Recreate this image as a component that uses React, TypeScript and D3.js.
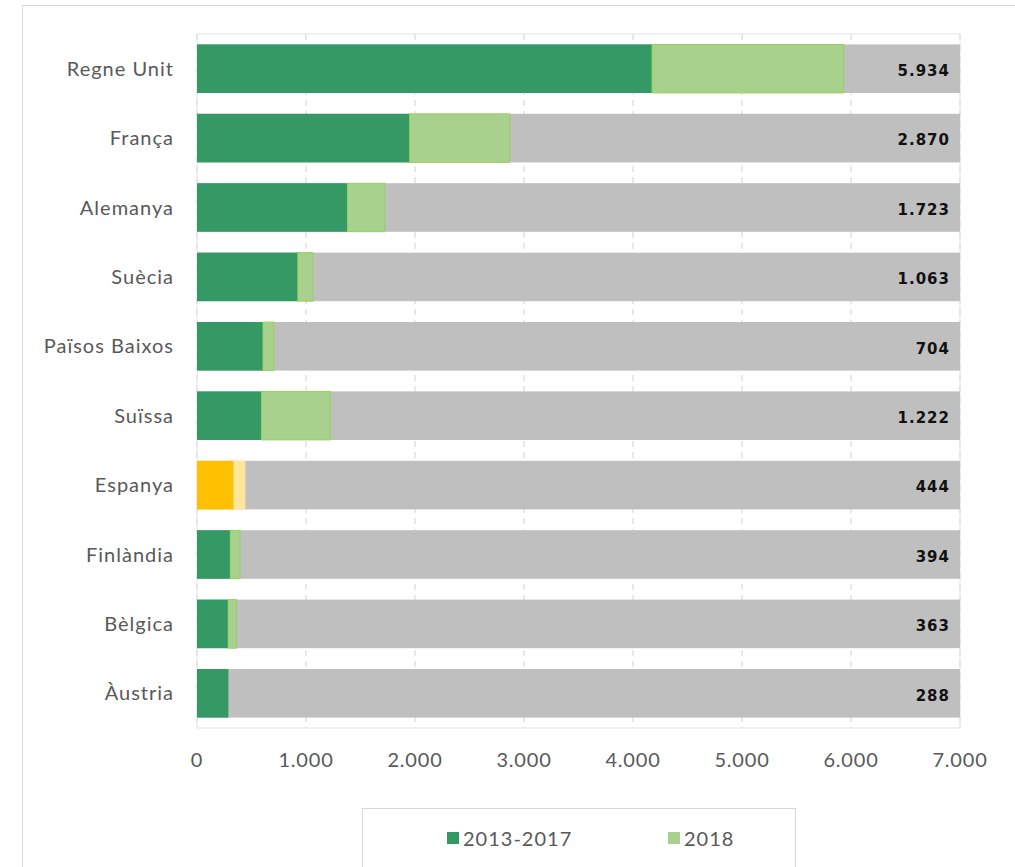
import React from "react";
import * as d3 from "d3";

const countries = ["Regne Unit", "França", "Alemanya", "Suècia", "Països Baixos", "Suïssa", "Espanya", "Finlàndia", "Bèlgica", "Àustria"];
const v2013_2017 = [4174, 1950, 1380, 925, 605, 590, 335, 305, 285, 288];
const v2018 = [1760, 920, 343, 138, 99, 632, 109, 89, 78, 0];
const totals = [5934, 2870, 1723, 1063, 704, 1222, 444, 394, 363, 288];
const xTicks = [0, 1000, 2000, 3000, 4000, 5000, 6000, 7000];
const highlight = "Espanya";
const seriesNames = ["2013-2017", "2018"];

const W = 1015, H = 867;
const left = 197, right = 960, top = 34, bottom = 728;

const fmt = (v: number) => {
  const s = String(v);
  return s.replace(/\B(?=(\d{3})+(?!\d))/g, ".");
};

export default function App() {
  const x = d3.scaleLinear().domain([0, 7000]).range([left, right]);
  const y = d3.scaleBand().domain(countries).range([top, bottom]).paddingInner(0.3).paddingOuter(0.15);
  const dark = "#349965", light = "#A9D18E";
  const orange = "#FFC000", lightOrange = "#FFE699";
  const labelFont = "Lato, 'Open Sans', sans-serif";
  return (
    <svg width={W} height={H} style={{ position: "absolute", left: 0, top: 0 }}>
      <rect x={0} y={0} width={W} height={H} fill="#fff" />
      <rect x={22.5} y={5.5} width={W + 10} height={H + 10} fill="none" stroke="#D9D9D9" strokeWidth={1} />
      {xTicks.map((t) => (
        <line key={t} x1={x(t)} x2={x(t)} y1={top} y2={bottom} stroke="#D9D9D9" strokeWidth={1.2} strokeDasharray="6,5" />
      ))}
      <rect x={left} y={top} width={right - left} height={bottom - top} fill="none" stroke="#E3E3E3" strokeWidth={1} />
      {countries.map((c, i) => {
        const by = y(c)!;
        const bh = y.bandwidth();
        const hl = c === highlight;
        return (
          <g key={c}>
            <rect x={x(0)} y={by} width={x(7000) - x(0)} height={bh} fill="#BFBFBF" />
            <rect x={x(0)} y={by} width={x(v2013_2017[i]) - x(0)} height={bh} fill={hl ? orange : dark} />
            {v2018[i] > 0 && (
              <rect x={x(v2013_2017[i])} y={by} width={x(v2013_2017[i] + v2018[i]) - x(v2013_2017[i])} height={bh} fill={hl ? lightOrange : light} stroke={hl ? "none" : "#92D050"} strokeWidth={0.8} />
            )}
            <text x={x(0) - 23} y={by + bh / 2} dy="0.35em" textAnchor="end" fontFamily={labelFont} fontSize={20} letterSpacing={1} fill="#595959">{c}</text>
            <text x={950} y={by + bh / 2 + 2} dy="0.35em" textAnchor="end" fontFamily="'DejaVu Sans', Verdana, sans-serif" fontWeight="bold" fontSize={15} letterSpacing={1} fill="#111">{fmt(totals[i])}</text>
          </g>
        );
      })}
      {xTicks.map((t) => (
        <text key={t} x={x(t)} y={760} dy="0.35em" textAnchor="middle" fontFamily={labelFont} fontSize={20} letterSpacing={0.8} fill="#595959">{fmt(t)}</text>
      ))}
      <rect x={362.5} y={808.5} width={433} height={80} fill="#fff" stroke="#D9D9D9" strokeWidth={1} />
      <rect x={447} y={832} width={12} height={12} fill={dark} />
      <text x={463} y={839} dy="0.35em" fontFamily={labelFont} fontSize={20} letterSpacing={1} fill="#595959">{seriesNames[0]}</text>
      <rect x={668} y={832} width={12} height={12} fill={light} />
      <text x={684} y={839} dy="0.35em" fontFamily={labelFont} fontSize={20} letterSpacing={1} fill="#595959">{seriesNames[1]}</text>
    </svg>
  );
}
